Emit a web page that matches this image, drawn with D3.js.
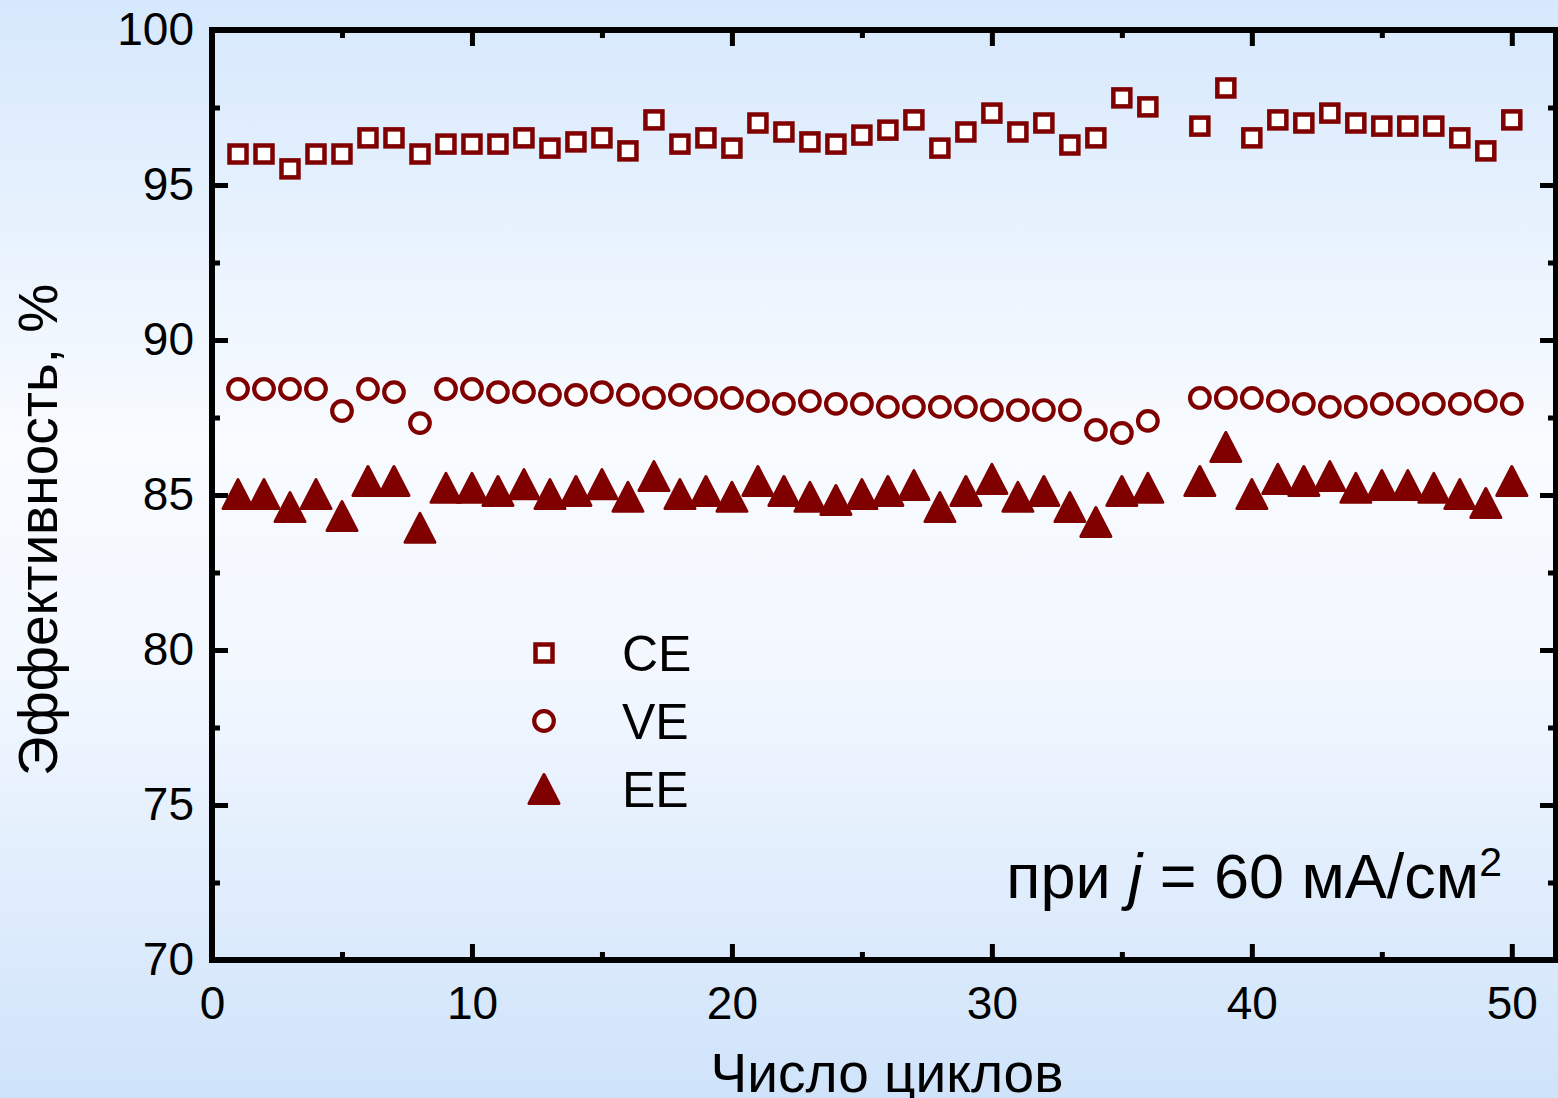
<!DOCTYPE html>
<html>
<head>
<meta charset="utf-8">
<script src="https://cdn.jsdelivr.net/npm/d3@7"></script>
<style>
  html, body { margin: 0; padding: 0; }
  body { width: 1558px; height: 1098px; overflow: hidden; }
  text { font-family: "Liberation Sans", Arial, sans-serif; fill: #000; }
</style>
</head>
<body>
<div id="svg-container"></div>
<script>
////////////////////////////////////////////////////////////////////
////////////////////////////  Data  ////////////////////////////////

// номер цикла (37-й цикл пропущен)
const cycles = [1, 2, 3, 4, 5, 6, 7, 8, 9, 10, 11, 12, 13, 14, 15, 16, 17, 18, 19, 20,
  21, 22, 23, 24, 25, 26, 27, 28, 29, 30, 31, 32, 33, 34, 35, 36, 38, 39, 40,
  41, 42, 43, 44, 45, 46, 47, 48, 49, 50];

// CE, %
const ce = [96.0, 96.0, 95.52, 96.0, 96.0, 96.52, 96.52, 96.0, 96.32, 96.32, 96.32, 96.52, 96.19, 96.39, 96.52, 96.1, 97.1, 96.32, 96.52, 96.19,
  97.0, 96.71, 96.39, 96.32, 96.61, 96.77, 97.1, 96.19, 96.71, 97.32, 96.71, 97.0, 96.29, 96.52, 97.81, 97.52, 96.9, 98.13, 96.52,
  97.1, 97.0, 97.32, 97.0, 96.9, 96.9, 96.9, 96.52, 96.1, 97.1];

// VE, %
const ve = [88.42, 88.42, 88.42, 88.42, 87.71, 88.42, 88.32, 87.32, 88.42, 88.42, 88.32, 88.32, 88.23, 88.23, 88.32, 88.23, 88.13, 88.23, 88.13, 88.13,
  88.03, 87.94, 88.03, 87.94, 87.94, 87.84, 87.84, 87.84, 87.84, 87.74, 87.74, 87.74, 87.74, 87.1, 87.0, 87.39, 88.13, 88.13, 88.13,
  88.03, 87.94, 87.84, 87.84, 87.94, 87.94, 87.94, 87.94, 88.03, 87.94];

// EE, %
const ee = [85.03, 85.03, 84.61, 85.03, 84.32, 85.45, 85.45, 83.94, 85.23, 85.23, 85.13, 85.35, 85.03, 85.13, 85.35, 84.94, 85.61, 85.03, 85.13, 84.94,
  85.45, 85.13, 84.94, 84.84, 85.03, 85.13, 85.32, 84.61, 85.13, 85.52, 84.94, 85.13, 84.61, 84.13, 85.13, 85.23, 85.45, 86.55, 85.03,
  85.52, 85.45, 85.61, 85.23, 85.32, 85.32, 85.23, 85.03, 84.74, 85.45];

const xTicks = [0, 10, 20, 30, 40, 50];
const yTicks = [70, 75, 80, 85, 90, 95, 100];
const legendLabels = ["CE", "VE", "EE"];

////////////////////////////////////////////////////////////////////
////////////////////////////  Init  ////////////////////////////////

const width = 1558;
const height = 1098;
const margin = { top: 30, right: 2, bottom: 138, left: 212 };
const red = "#800000";

const svg = d3.select("#svg-container").append("svg")
  .attr("width", width)
  .attr("height", height);

// фон — вертикальный градиент
const grad = svg.append("defs").append("linearGradient")
  .attr("id", "bg").attr("x1", 0).attr("y1", 0).attr("x2", 0).attr("y2", 1);
grad.append("stop").attr("offset", "0%").attr("stop-color", "#d6e8fc");
grad.append("stop").attr("offset", "40%").attr("stop-color", "#f8fbff");
grad.append("stop").attr("offset", "60%").attr("stop-color", "#f3f8ff");
grad.append("stop").attr("offset", "100%").attr("stop-color", "#cfe3fa");
svg.append("rect").attr("width", width).attr("height", height).attr("fill", "url(#bg)");

// scale
const xScale = d3.scaleLinear().domain([0, 51.7]).range([margin.left, width - margin.right]);
const yScale = d3.scaleLinear().domain([70, 100]).range([height - margin.bottom, margin.top]);

const x0 = xScale.range()[0], x1 = xScale.range()[1];
const y0 = yScale.range()[0], y1 = yScale.range()[1];

// minor ticks
const xMinor = xTicks.map((d) => d + 5);
const yMinor = yTicks.slice(0, -1).map((d) => d + 2.5);

////////////////////////////////////////////////////////////////////
////////////////////////////  Axes  ////////////////////////////////

function styleAxis(g) {
  g.select(".domain").remove();
  g.selectAll(".tick line").attr("stroke", "#000").attr("stroke-width", 5);
  g.selectAll(".tick text").attr("font-size", 46).attr("fill", "#000")
    .style("font-family", '"Liberation Sans", Arial, sans-serif');
}

// bottom
svg.append("g").attr("transform", `translate(0,${y0})`)
  .call(d3.axisBottom(xScale).tickValues(xTicks).tickSizeInner(-16).tickSizeOuter(0).tickPadding(24))
  .call(styleAxis)
  .call((g) => g.selectAll(".tick text").attr("dy", "0.75em"));
svg.append("g").attr("transform", `translate(0,${y0})`)
  .call(d3.axisBottom(xScale).tickValues(xMinor).tickSizeInner(-8).tickSizeOuter(0).tickFormat(""))
  .call(styleAxis);

// top
svg.append("g").attr("transform", `translate(0,${y1})`)
  .call(d3.axisTop(xScale).tickValues(xTicks).tickSizeInner(-16).tickSizeOuter(0).tickFormat(""))
  .call(styleAxis);
svg.append("g").attr("transform", `translate(0,${y1})`)
  .call(d3.axisTop(xScale).tickValues(xMinor).tickSizeInner(-8).tickSizeOuter(0).tickFormat(""))
  .call(styleAxis);

// left
svg.append("g").attr("transform", `translate(${x0},0)`)
  .call(d3.axisLeft(yScale).tickValues(yTicks).tickSizeInner(-16).tickSizeOuter(0).tickPadding(18))
  .call(styleAxis);
svg.append("g").attr("transform", `translate(${x0},0)`)
  .call(d3.axisLeft(yScale).tickValues(yMinor).tickSizeInner(-8).tickSizeOuter(0).tickFormat(""))
  .call(styleAxis);

// right
svg.append("g").attr("transform", `translate(${x1},0)`)
  .call(d3.axisRight(yScale).tickValues(yTicks).tickSizeInner(-16).tickSizeOuter(0).tickFormat(""))
  .call(styleAxis);
svg.append("g").attr("transform", `translate(${x1},0)`)
  .call(d3.axisRight(yScale).tickValues(yMinor).tickSizeInner(-8).tickSizeOuter(0).tickFormat(""))
  .call(styleAxis);

// рамка
svg.append("rect")
  .attr("x", x0).attr("y", y1)
  .attr("width", x1 - x0).attr("height", y0 - y1)
  .attr("fill", "none").attr("stroke", "#000").attr("stroke-width", 6);

// axis titles
svg.append("text")
  .attr("x", 887)
  .attr("y", 1092)
  .attr("text-anchor", "middle")
  .attr("font-size", 55)
  .text("Число циклов");

svg.append("text")
  .attr("transform", `translate(57,530) rotate(-90)`)
  .attr("text-anchor", "middle")
  .attr("font-size", 55)
  .text("Эффективность, %");

////////////////////////////////////////////////////////////////////
////////////////////////////  Markers  /////////////////////////////

const data = cycles.map((c, i) => ({ cycle: c, ce: ce[i], ve: ve[i], ee: ee[i] }));

function square(sel) {
  sel.append("rect")
    .attr("x", -8.5).attr("y", -8.5).attr("width", 17).attr("height", 17)
    .attr("fill", "#fff").attr("stroke", red).attr("stroke-width", 4.5);
}
function circle(sel) {
  sel.append("circle").attr("r", 9.8)
    .attr("fill", "#fff").attr("stroke", red).attr("stroke-width", 4.2);
}
function tri(sel) {
  sel.append("path").attr("d", "M0,-14.5L15,14.5L-15,14.5Z")
    .attr("fill", red).attr("stroke", red).attr("stroke-width", 3).attr("stroke-linejoin", "round");
}

svg.append("g").selectAll("g").data(data).enter().append("g")
  .attr("transform", (d) => `translate(${xScale(d.cycle)},${yScale(d.ee)})`)
  .call(tri);

svg.append("g").selectAll("g").data(data).enter().append("g")
  .attr("transform", (d) => `translate(${xScale(d.cycle)},${yScale(d.ve)})`)
  .call(circle);

svg.append("g").selectAll("g").data(data).enter().append("g")
  .attr("transform", (d) => `translate(${xScale(d.cycle)},${yScale(d.ce)})`)
  .call(square);

////////////////////////////////////////////////////////////////////
////////////////////////////  Legend  //////////////////////////////

const legend = svg.append("g").attr("transform", "translate(544,653)");
const markers = [square, circle, tri];
legendLabels.forEach((lab, i) => {
  const row = legend.append("g").attr("transform", `translate(0,${i * 68})`);
  row.append("g").call(markers[i]);
  row.append("text")
    .attr("x", 78).attr("y", 0).attr("dy", "0.36em")
    .attr("font-size", 50)
    .text(lab);
});

// подпись условий
const note = svg.append("text")
  .attr("x", 1502).attr("y", 898)
  .attr("text-anchor", "end")
  .attr("font-size", 63);
note.append("tspan").text("при ");
note.append("tspan").attr("font-style", "italic").text("j");
note.append("tspan").text(" = 60 мА/см");
note.append("tspan").attr("dy", -22).attr("font-size", 41).text("2");
</script>
</body>
</html>
